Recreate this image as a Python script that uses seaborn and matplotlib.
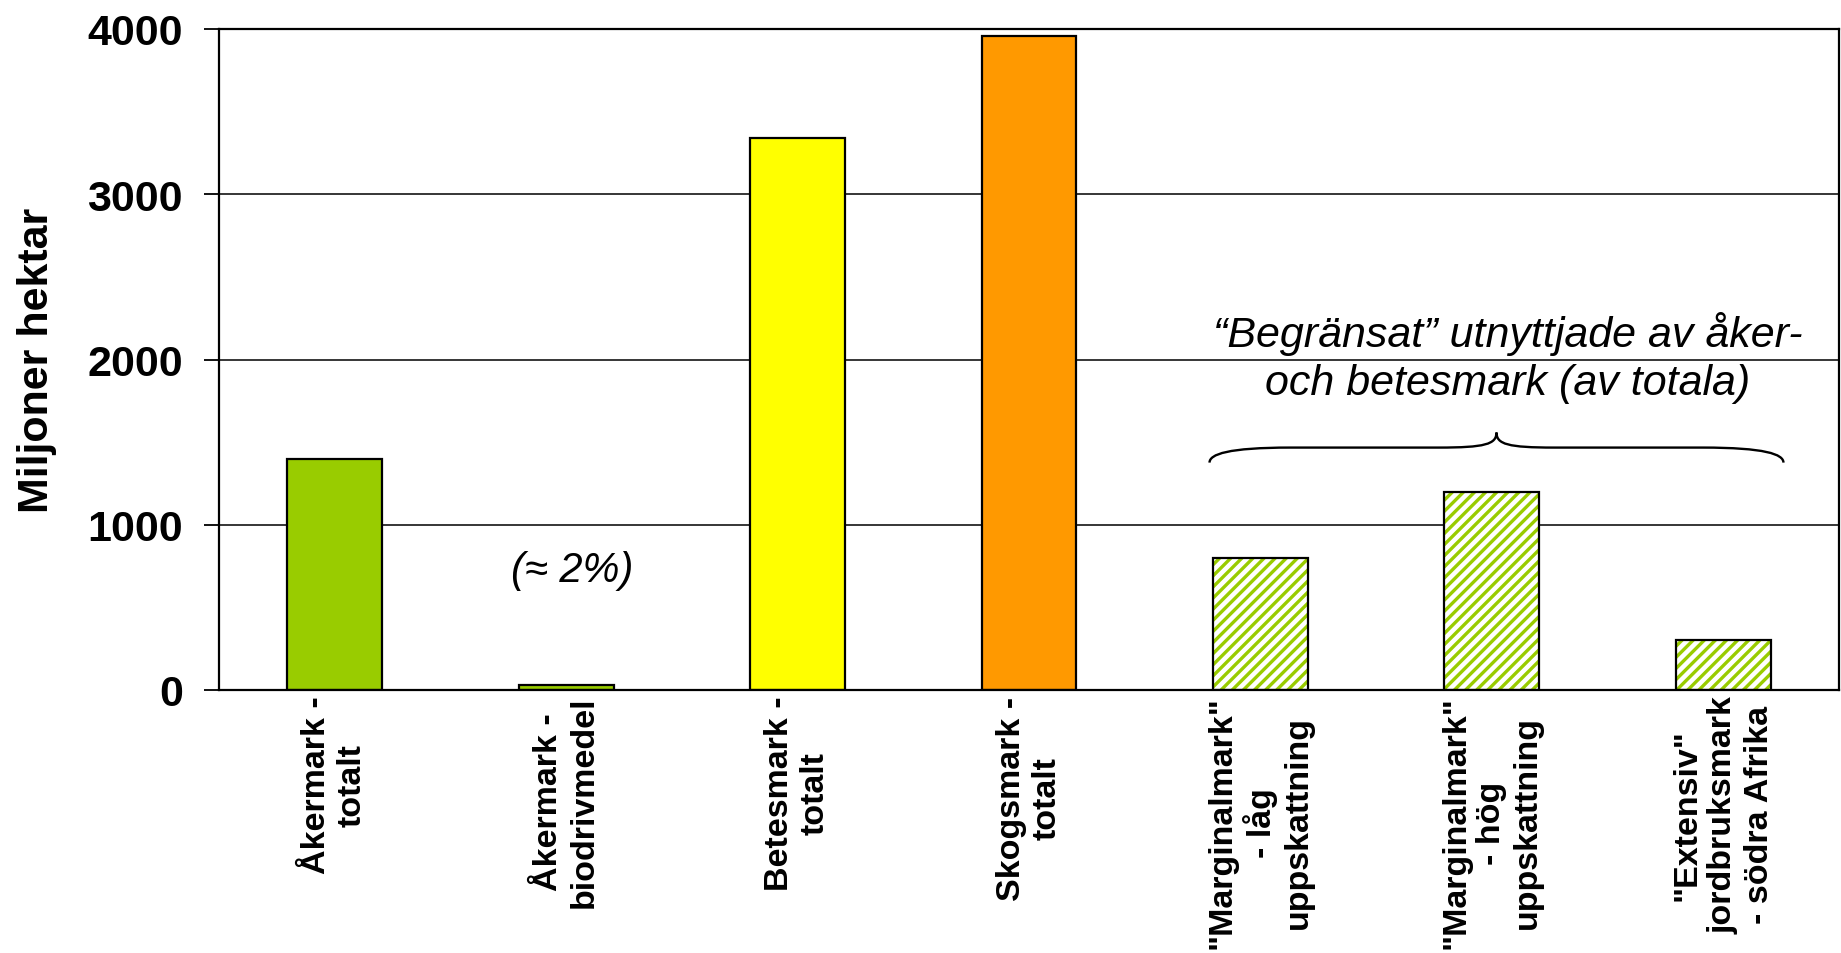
import matplotlib
matplotlib.use("Agg")
import matplotlib.pyplot as plt
import matplotlib.patches as mpatches
from matplotlib.path import Path
import seaborn as sns
import pandas as pd

# ---- data ----
categories = [
    "Åkermark -\ntotalt",
    "Åkermark -\nbiodrivmedel",
    "Betesmark -\ntotalt",
    "Skogsmark -\ntotalt",
    "\"Marginalmark\"\n- låg\nuppskattning",
    "\"Marginalmark\"\n- hög\nuppskattning",
    "\"Extensiv\"\njordbruksmark\n- södra Afrika",
]
values = [1400, 30, 3340, 3960, 800, 1200, 300]
bar_colors = ["#99CC00", "#99CC00", "#FFFF00", "#FF9900", "#FFFFFF", "#FFFFFF", "#FFFFFF"]
hatched = [False, False, False, False, True, True, True]
y_ticks = [0, 1000, 2000, 3000, 4000]
y_label = "Miljoner hektar"
note_small = "(≈ 2%)"
note_brace = ["“Begränsat” utnyttjade av åker-", "och betesmark (av totala)"]

sns.set_theme(style="white")
plt.rcParams["font.family"] = ["Liberation Sans", "DejaVu Sans"]
plt.rcParams["hatch.linewidth"] = 2.4
for k in ["text.color", "axes.labelcolor", "xtick.color", "ytick.color"]:
    plt.rcParams[k] = "black"

fig = plt.figure(figsize=(18.41, 9.54), dpi=100)
ax = fig.add_axes([219 / 1841, 1 - 691 / 954, 1620 / 1841, 661 / 954])

df = pd.DataFrame({"cat": categories, "val": values})
sns.barplot(data=df, x="cat", y="val", hue="cat", palette=bar_colors,
            legend=False, width=0.41, edgecolor="black", linewidth=1.6,
            saturation=1, ax=ax)

hatch_green = "#99CC00"
for patch, h in zip(ax.patches, hatched):
    if h:
        patch.set_facecolor("white")
        patch.set_hatch("///")
        patch.set_edgecolor(hatch_green)
        patch.set_linewidth(0)
        outline = mpatches.Rectangle((patch.get_x(), patch.get_y()),
                                     patch.get_width(), patch.get_height(),
                                     facecolor="none", edgecolor="black",
                                     linewidth=1.6, zorder=patch.get_zorder() + 0.1)
        ax.add_patch(outline)

ax.set_xlim(-0.5, len(categories) - 0.5)
ax.set_ylim(0, 4000)
ax.set_yticks(y_ticks)
ax.set_yticklabels([str(t) for t in y_ticks], fontsize=31, fontweight="bold")
ax.yaxis.grid(True, color="black", linewidth=1.1)
ax.set_axisbelow(True)
ax.tick_params(axis="y", length=11, width=1.3, color="black", pad=15, left=True)
ax.tick_params(axis="x", length=0, pad=4)

ax.set_xlabel("")
ax.set_ylabel(y_label, fontsize=31, fontweight="bold")
ax.yaxis.set_label_coords(-0.1, 0.5)

for lbl in ax.get_xticklabels():
    lbl.set_rotation(90)
    lbl.set_fontsize(24.5)
    lbl.set_fontweight("bold")
    lbl.set_ha("center")
    lbl.set_va("top")
    lbl.set_multialignment("center")
    lbl.set_linespacing(1.2)

for side in ["left", "bottom", "right", "top"]:
    ax.spines[side].set_visible(True)
    ax.spines[side].set_color("black")
    ax.spines[side].set_linewidth(1.6)

# annotations
ax.text(1.025, 727, note_small, fontsize=30, style="italic", ha="center", va="center")
ax.text(5.07, 2160, note_brace[0], fontsize=31, style="italic", ha="center", va="center")
ax.text(5.07, 1860, note_brace[1], fontsize=31, style="italic", ha="center", va="center")

# curly brace
xL, xM, xR = 3.78, 5.02, 6.26
y_end, y_line, y_tip = 1376, 1467, 1558
verts = [
    (xL, y_end), (xL, y_line - 40), (xL + 0.08, y_line), (xL + 0.35, y_line),
    (xM - 0.25, y_line),
    (xM - 0.05, y_line), (xM, y_line + 20), (xM, y_tip),
    (xM, y_line + 20), (xM + 0.05, y_line), (xM + 0.25, y_line),
    (xR - 0.35, y_line),
    (xR - 0.08, y_line), (xR, y_line - 40), (xR, y_end),
]
codes = [Path.MOVETO, Path.CURVE4, Path.CURVE4, Path.CURVE4,
         Path.LINETO,
         Path.CURVE4, Path.CURVE4, Path.CURVE4,
         Path.CURVE4, Path.CURVE4, Path.CURVE4,
         Path.LINETO,
         Path.CURVE4, Path.CURVE4, Path.CURVE4]
ax.add_patch(mpatches.PathPatch(Path(verts, codes), facecolor="none",
                                edgecolor="black", linewidth=1.7))

fig.savefig("out.png", dpi=100)
